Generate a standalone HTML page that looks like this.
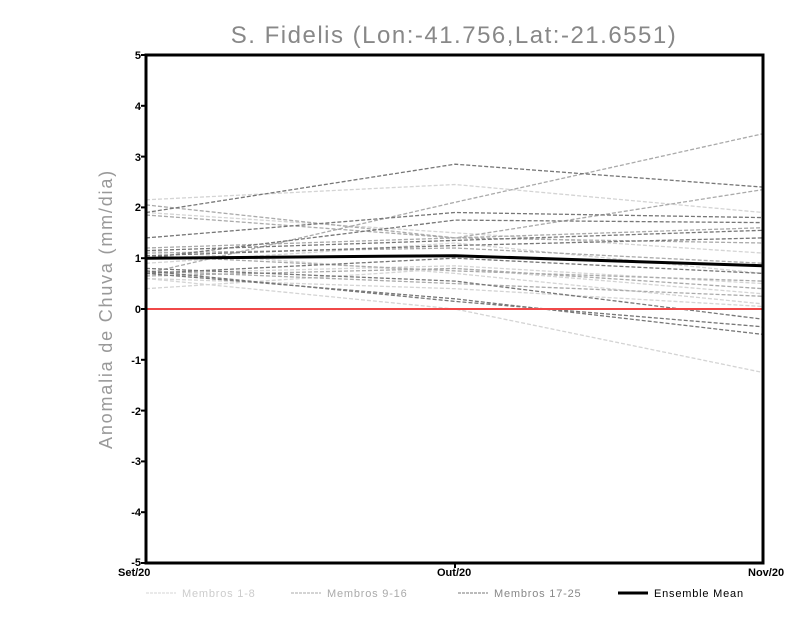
<!DOCTYPE html>
<html><head><meta charset="utf-8"><style>body{margin:0;background:#fff}svg{display:block}</style></head><body>
<svg width="800" height="618" xmlns="http://www.w3.org/2000/svg" font-family="Liberation Sans, sans-serif">
<rect width="800" height="618" fill="#fff"/>
<text x="454" y="43" text-anchor="middle" font-size="24" letter-spacing="1.5" fill="#888">S. Fidelis (Lon:-41.756,Lat:-21.6551)</text>
<text transform="translate(112,309) rotate(-90)" text-anchor="middle" font-size="18" letter-spacing="1.8" fill="#999">Anomalia de Chuva (mm/dia)</text>
<g fill="none" stroke-width="1.3" stroke-dasharray="4,2">
<g stroke="#d4d4d4">
<polyline points="146,199.8 455,184.5 763,212.5"/>
<polyline points="146,288.7 455,268.4 763,293.8"/>
<polyline points="146,278.5 455,309 763,372.5"/>
<polyline points="146,250.6 455,273.4 763,303.9"/>
<polyline points="146,263.3 455,243 763,273.4"/>
<polyline points="146,278.5 455,288.7 763,306.5"/>
<polyline points="146,212.5 455,232.8 763,253.1"/>
<polyline points="146,273.4 455,265.8 763,283.6"/>
</g>
<g stroke="#aaa">
<polyline points="146,273.4 455,202.3 763,133.7"/>
<polyline points="146,248 455,237.9 763,189.6"/>
<polyline points="146,255.7 455,270.9 763,281.1"/>
<polyline points="146,270.9 455,283.6 763,296.3"/>
<polyline points="146,215 455,237.9 763,243"/>
<polyline points="146,204.9 455,237.9 763,227.7"/>
<polyline points="146,253.1 455,248 763,263.3"/>
<polyline points="146,276 455,268.4 763,288.7"/>
</g>
<g stroke="#777">
<polyline points="146,212.5 455,164.2 763,187.1"/>
<polyline points="146,237.9 455,212.5 763,217.6"/>
<polyline points="146,250.6 455,240.4 763,230.3"/>
<polyline points="146,255.7 455,245.5 763,237.9"/>
<polyline points="146,270.9 455,301.4 763,326.8"/>
<polyline points="146,273.4 455,298.8 763,334.4"/>
<polyline points="146,268.4 455,281.1 763,319.2"/>
<polyline points="146,258.2 455,220.1 763,222.6"/>
<polyline points="146,273.4 455,258.2 763,273.4"/>
</g>
</g>
<line x1="146" y1="309" x2="763" y2="309" stroke="#f04848" stroke-width="2"/>
<polyline points="146,258.2 455,255.7 763,265.8" fill="none" stroke="#000" stroke-width="3"/>
<rect x="146" y="55" width="617" height="508" fill="none" stroke="#000" stroke-width="3"/>
<g stroke="#000" stroke-width="2">
<line x1="141" y1="55" x2="146" y2="55"/><line x1="141" y1="105.8" x2="146" y2="105.8"/><line x1="141" y1="156.6" x2="146" y2="156.6"/><line x1="141" y1="207.4" x2="146" y2="207.4"/><line x1="141" y1="258.2" x2="146" y2="258.2"/><line x1="141" y1="309" x2="146" y2="309"/><line x1="141" y1="359.8" x2="146" y2="359.8"/><line x1="141" y1="410.6" x2="146" y2="410.6"/><line x1="141" y1="461.4" x2="146" y2="461.4"/><line x1="141" y1="512.2" x2="146" y2="512.2"/><line x1="141" y1="563" x2="146" y2="563"/>
<line x1="455" y1="563" x2="455" y2="568"/>
</g>
<g font-size="11" font-weight="bold" text-anchor="end" fill="#000">
<text x="141" y="59">5</text><text x="141" y="110">4</text><text x="141" y="161">3</text><text x="141" y="211">2</text><text x="141" y="262">1</text><text x="141" y="313">0</text><text x="141" y="364">-1</text><text x="141" y="415">-2</text><text x="141" y="465">-3</text><text x="141" y="516">-4</text><text x="141" y="566">-5</text>
</g>
<g font-size="11" font-weight="bold" fill="#000">
<text x="118" y="576">Set/20</text><text x="437" y="576">Out/20</text><text x="748" y="576">Nov/20</text>
</g>
<g font-size="11" letter-spacing="0.8" fill="#aaa">
<line x1="146" y1="593" x2="176" y2="593" stroke="#d4d4d4" stroke-dasharray="3,1"/><text x="182" y="597" fill="#ccc">Membros 1-8</text>
<line x1="291" y1="593" x2="321" y2="593" stroke="#aaa" stroke-dasharray="3,1"/><text x="327" y="597">Membros 9-16</text>
<line x1="458" y1="593" x2="488" y2="593" stroke="#777" stroke-dasharray="3,1"/><text x="494" y="597" fill="#888">Membros 17-25</text>
<line x1="618" y1="593" x2="648" y2="593" stroke="#000" stroke-width="3"/><text x="654" y="597" fill="#000">Ensemble Mean</text>
</g>
</svg>
</body></html>
